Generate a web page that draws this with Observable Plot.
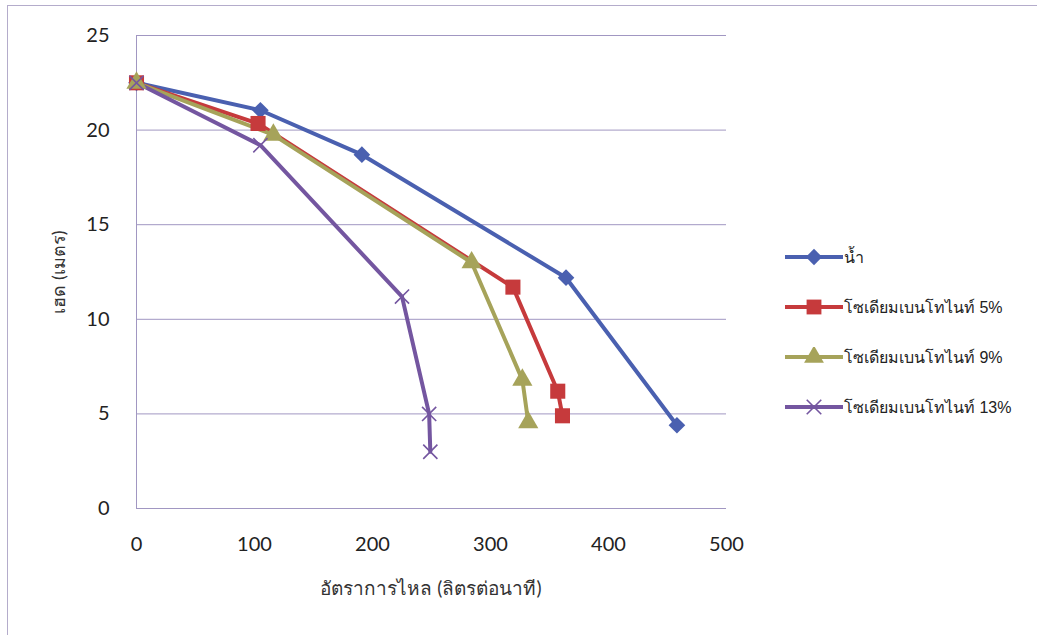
<!DOCTYPE html>
<html>
<head>
<meta charset="utf-8">
<script src="https://cdn.jsdelivr.net/npm/d3@7"></script>
<script src="https://cdn.jsdelivr.net/npm/@observablehq/plot@0.6"></script>
<style>
  html, body { margin: 0; padding: 0; background: #fff; overflow: hidden; }
  body { width: 1037px; height: 635px; position: relative; font-family: Lato, "Open Sans", "Noto Sans", sans-serif; }
  #frame { position: absolute; left: 7px; top: 5px; width: 1040px; height: 640px; border: 1px solid #b4accb; box-sizing: border-box; }
  #chart { position: absolute; left: 0; top: 0; }
  #legend { position: absolute; left: 785px; top: 232px; }
  .row { display: flex; align-items: center; height: 50px; font-size: 16px; color: #222; font-family: "Liberation Sans", Arial, sans-serif; }
  .row svg { margin-right: 1px; }
</style>
</head>
<body>
<div id="frame"></div>
<div id="chart"></div>
<div id="legend"></div>
<script>
const seriesNames = ["น้ำ", "โซเดียมเบนโทไนท์ 5%", "โซเดียมเบนโทไนท์ 9%", "โซเดียมเบนโทไนท์ 13%"];
const colors = ["#4a60b0", "#c63a3c", "#a6a35a", "#7456a0"];
const symbols = ["diamond2", "square", "triangle", "times"];

const flowWater = [0, 105, 191, 364, 458];
const headWater = [22.5, 21.05, 18.7, 12.2, 4.4];
const flow5 = [0, 103, 319, 357, 361];
const head5 = [22.5, 20.35, 11.7, 6.2, 4.9];
const flow9 = [0, 116, 284, 327, 332];
const head9 = [22.5, 19.75, 13.0, 6.8, 4.55];
const flow13 = [0, 105, 225, 248, 249];
const head13 = [22.5, 19.2, 11.2, 5.0, 3.0];

const xTicks = [0, 100, 200, 300, 400, 500];
const yTicks = [0, 5, 10, 15, 20, 25];
const xTitle = "อัตราการไหล (ลิตรต่อนาที)";
const yTitle = "เฮด (เมตร)";

const flows = [flowWater, flow5, flow9, flow13];
const heads = [headWater, head5, head9, head13];
const data = [];
seriesNames.forEach((s, i) => flows[i].forEach((f, j) => data.push({series: s, flow: f, head: heads[i][j]})));

const gridColor = "#a197c2";
const fontTick = "Lato, 'Open Sans', sans-serif";

const dotMarks = seriesNames.map((s, i) => {
  const sub = data.filter(d => d.series === s);
  if (symbols[i] === "times") {
    return Plot.dot(sub, {x: "flow", y: "head", symbol: "times", r: 6.5, stroke: colors[i], strokeWidth: 1.6});
  }
  const r = symbols[i] === "square" ? 8.5 : symbols[i] === "triangle" ? 7.5 : 7.5;
  return Plot.dot(sub, {x: "flow", y: "head", symbol: symbols[i], r, fill: colors[i], stroke: "none"});
});

const chart = Plot.plot({
  width: 1037,
  height: 635,
  marginLeft: 136,
  marginRight: 311,
  marginTop: 35,
  marginBottom: 127,
  style: {background: "transparent", fontFamily: fontTick, fontSize: "20px", color: "#222"},
  x: {domain: [0, 500], ticks: xTicks, label: null},
  y: {domain: [0, 25], ticks: yTicks, label: null},
  color: {domain: seriesNames, range: colors},
  marks: [
    Plot.gridY(yTicks, {stroke: gridColor, strokeOpacity: 1, strokeWidth: 1}),
    Plot.ruleX([0], {stroke: gridColor, strokeWidth: 1}),
    Plot.axisX({ticks: xTicks, tickSize: 0, tickPadding: 28, fontSize: 20, label: null}),
    Plot.axisY({ticks: yTicks, tickSize: 0, tickPadding: 27, fontSize: 20, label: null}),
    Plot.line(data, {x: "flow", y: "head", z: "series", stroke: "series", strokeWidth: 4, strokeLinejoin: "round"}),
    ...dotMarks
  ]
});
document.getElementById("chart").appendChild(chart);

// Axis titles
const svg = d3.select(chart);
svg.append("text")
  .attr("x", 431).attr("y", 595)
  .attr("text-anchor", "middle")
  .style("font-size", "19px").style("fill", "#333")
  .text(xTitle);
svg.append("text")
  .attr("transform", "translate(65,272) rotate(-90)")
  .attr("text-anchor", "middle")
  .style("font-size", "18px").style("fill", "#333")
  .text(yTitle);

// Legend
const legend = d3.select("#legend");
seriesNames.forEach((s, i) => {
  const row = legend.append("div").attr("class", "row");
  const ls = row.append("svg").attr("width", 58).attr("height", 20);
  ls.append("line").attr("x1", 0).attr("x2", 58).attr("y1", 10).attr("y2", 10)
    .attr("stroke", colors[i]).attr("stroke-width", 4);
  const symMap = {diamond2: d3.symbolDiamond2, square: d3.symbolSquare, triangle: d3.symbolTriangle, times: d3.symbolTimes};
  const size = symbols[i] === "square" ? 220 : symbols[i] === "times" ? 140 : 170;
  const p = ls.append("path").attr("transform", "translate(29,10)")
    .attr("d", d3.symbol(symMap[symbols[i]], size)());
  if (symbols[i] === "times") p.attr("fill", "none").attr("stroke", colors[i]).attr("stroke-width", 1.6);
  else p.attr("fill", colors[i]);
  row.append("span").text(s);
});
</script>
</body>
</html>
